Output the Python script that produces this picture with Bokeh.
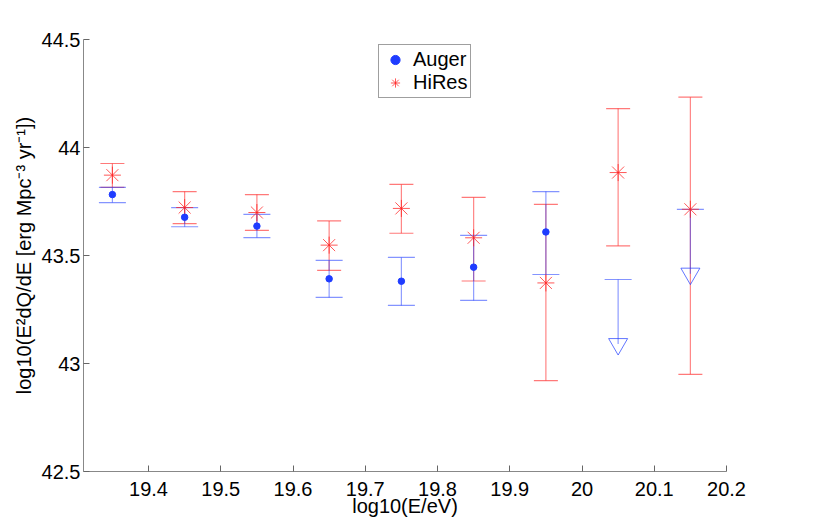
import math
from bokeh.plotting import figure
from bokeh.models import Legend, LegendItem, FixedTicker
from bokeh.embed import file_html
from bokeh.resources import INLINE

# ---- data ----
energy = [19.35, 19.45, 19.55, 19.65, 19.75, 19.85, 19.95, 20.05, 20.15]

auger_val = [43.782, 43.677, 43.636, 43.392, 43.381, 43.446, 43.609, 43.090, 43.416]
auger_lo = [43.745, 43.633, 43.583, 43.306, 43.269, 43.292, 43.412, float("nan"), float("nan")]
auger_hi = [43.815, 43.722, 43.690, 43.477, 43.491, 43.593, 43.796, 43.389, 43.714]
auger_is_limit = [False, False, False, False, False, False, False, True, True]

hires_val = [43.872, 43.722, 43.699, 43.548, 43.718, 43.582, 43.373, 43.884, 43.714]
hires_lo = [43.815, 43.648, 43.616, 43.431, 43.603, 43.382, 42.921, 43.545, 42.950]
hires_hi = [43.926, 43.796, 43.782, 43.660, 43.829, 43.769, 43.737, 44.180, 44.233]

x_ticks = [19.4, 19.5, 19.6, 19.7, 19.8, 19.9, 20.0, 20.1, 20.2]
y_ticks = [42.5, 43.0, 43.5, 44.0, 44.5]
x_tick_labels = {19.4: "19.4", 19.5: "19.5", 19.6: "19.6", 19.7: "19.7", 19.8: "19.8",
                 19.9: "19.9", 20.0: "20", 20.1: "20.1", 20.2: "20.2"}
y_tick_labels = {42.5: "42.5", 43.0: "43", 43.5: "43.5", 44.0: "44", 44.5: "44.5"}

x_label = "log10(E/eV)"
y_label = "log10(E\u00b2dQ/dE [erg Mpc\u207b\u00b3 yr\u207b\u00b9])"

FONT = "Liberation Sans"
BLUE = "#1f3cff"
RED = "#ff2020"

p = figure(frame_width=643, frame_height=432,
           min_border_left=83, min_border_right=96, min_border_top=39, min_border_bottom=51,
           x_range=(19.31, 20.2), y_range=(42.5, 44.5),
           output_backend="svg", toolbar_location=None)
p.outline_line_color = None
p.grid.visible = False
p.background_fill_color = "white"

for ax in (p.xaxis, p.yaxis):
    ax.axis_line_color = "#888888"
    ax.major_tick_line_color = "#666666"
    ax.major_tick_in = 6
    ax.major_tick_out = 0
    ax.minor_tick_line_color = None
    ax.major_label_text_font = FONT
    ax.major_label_text_font_size = "20px"
    ax.major_label_text_color = "black"
    ax.axis_label_text_font = FONT
    ax.axis_label_text_font_size = "20px"
    ax.axis_label_text_font_style = "normal"
    ax.axis_label_text_color = "black"

p.xaxis.ticker = FixedTicker(ticks=x_ticks)
p.yaxis.ticker = FixedTicker(ticks=y_ticks)
p.xaxis.major_label_overrides = x_tick_labels
p.yaxis.major_label_overrides = y_tick_labels
p.xaxis.axis_label = x_label
p.yaxis.axis_label = y_label
p.xaxis.major_label_standoff = 10
p.xaxis.axis_label_standoff = -4
p.yaxis.major_label_standoff = 3
p.yaxis.axis_label_standoff = 4

# ---- error bars ----
# HiRes
p.segment(x0=energy, y0=hires_lo, x1=energy, y1=hires_hi,
          line_color=RED, line_alpha=0.55, line_width=1.2)
p.scatter(energy, hires_hi, marker="dash", size=24, line_color=RED, line_alpha=0.6, line_width=1.2)
p.scatter(energy, hires_lo, marker="dash", size=24, line_color=RED, line_alpha=0.6, line_width=1.2)

# Auger
auger_seg_lo = [v if math.isnan(l) else l for v, l in zip(auger_val, auger_lo)]
p.segment(x0=energy, y0=auger_seg_lo, x1=energy, y1=auger_hi,
          line_color=BLUE, line_alpha=0.5, line_width=1.2)
p.scatter(energy, auger_hi, marker="dash", size=27, line_color=BLUE, line_alpha=0.55, line_width=1.2)
p.scatter(energy, auger_lo, marker="dash", size=27, line_color=BLUE, line_alpha=0.55, line_width=1.2)

# ---- markers ----
hires_r = p.scatter(energy, hires_val, marker="asterisk", size=17,
                    line_color=RED, line_alpha=0.75, line_width=1.0)

ax_pts = [e for e, lim in zip(energy, auger_is_limit) if not lim]
ay_pts = [v for v, lim in zip(auger_val, auger_is_limit) if not lim]
lx_pts = [e for e, lim in zip(energy, auger_is_limit) if lim]
ly_pts = [v for v, lim in zip(auger_val, auger_is_limit) if lim]

auger_r = p.scatter(ax_pts, ay_pts, marker="circle", size=6.5,
                    fill_color=BLUE, line_color=BLUE)
p.scatter(lx_pts, ly_pts, marker="inverted_triangle", size=19,
          fill_color=None, line_color=BLUE, line_alpha=0.7, line_width=1.0)

legend = Legend(items=[LegendItem(label="Auger", renderers=[auger_r]),
                       LegendItem(label="HiRes", renderers=[hires_r])],
                location=(295, 373))
legend.label_text_font = FONT
legend.label_text_font_size = "20px"
legend.label_text_color = "black"
legend.glyph_width = 26
legend.glyph_height = 23
legend.label_height = 23
legend.label_standoff = 5
legend.padding = 3
legend.spacing = 0
legend.margin = 0
legend.border_line_color = "#404040"
legend.border_line_width = 1
legend.background_fill_alpha = 1.0
p.add_layout(legend)

open("out.html", "w").write(file_html(p, INLINE))
